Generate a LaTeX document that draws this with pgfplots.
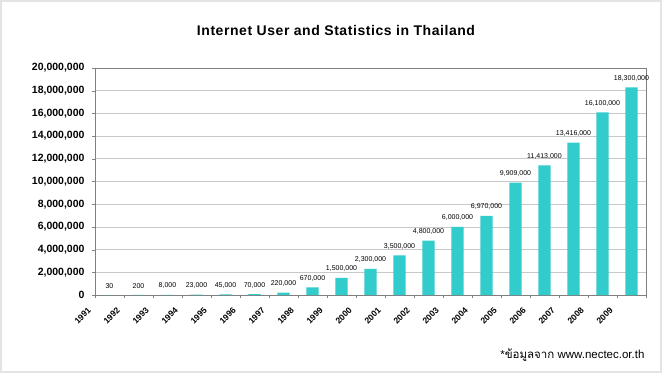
\documentclass[border=0pt]{standalone}
\usepackage{pgfplots}
\pgfplotsset{compat=1.18}
\usepackage{fontspec}
\setmainfont{Liberation Sans}
\newfontfamily\thaifont[Script=Thai]{Loma}
\definecolor{barc}{HTML}{33CCCC}
\definecolor{gridc}{HTML}{C8C8C8}
\definecolor{axc}{HTML}{808080}
\definecolor{framec}{HTML}{E4E4E4}
\begin{document}
\begin{tikzpicture}[x=1pt,y=1pt]
\fill[white] (0,0) rectangle (662,373);
\draw[framec, line width=2pt] (1,1) rectangle (661,372);
\useasboundingbox (0,0) rectangle (662,373);
\node[font=\fontsize{14}{16}\selectfont\bfseries\addfontfeature{LetterSpace=4}] at (336,343) {Internet User and Statistics in Thailand};
\node[anchor=east, font=\fontsize{11.5}{13}\selectfont] at (648,18) {*{\thaifont ข้อมูลจาก} www.nectec.or.th};
\begin{axis}[
  at={(95pt,78pt)}, anchor=south west,
  scale only axis, width=551pt, height=227pt,
  xmin=-0.5, xmax=18.5, ymin=0, ymax=20000000,
  ytick={0,2000000,...,20000000},
  scaled y ticks=false,
  yticklabel style={/pgf/number format/fixed, /pgf/number format/precision=0, /pgf/number format/1000 sep={,}},
  /pgf/number format/assume math mode=true,
  yticklabel style={font=\fontsize{10.5}{12}\selectfont\bfseries, xshift=-4pt},
  xtick=data,
  xticklabels={1991,1992,1993,1994,1995,1996,1997,1998,1999,2000,2001,2002,2003,2004,2005,2006,2007,2008,2009},
  xticklabel style={font=\fontsize{8.5}{10}\selectfont\bfseries, xshift=-20pt, yshift=-11pt, rotate=45, anchor=east, inner sep=0pt},
  minor xtick={-0.5,0.5,...,18.5},
  major x tick style={draw=none},
  minor x tick style={draw=axc},
  ytick style={draw=axc},
  tick align=outside,
  major tick length=3pt, minor tick length=3pt,
  xtick pos=bottom, ytick pos=left,
  ymajorgrids, grid style={gridc, line width=0.8pt},
  axis line style={axc, line width=0.8pt},
  ybar, bar width=12.3pt, bar shift=0pt,
  nodes near coords={\pgfmathprintnumber[fixed,precision=0,1000 sep={,}]{\pgfplotspointmeta}},
  every node near coord/.append style={font=\fontsize{7}{8}\selectfont, inner sep=0pt, yshift=6pt, anchor=south},
  clip=false,
]
\addplot[fill=barc, draw=none] coordinates {
(0,30) (1,200) (2,8000) (3,23000) (4,45000) (5,70000) (6,220000) (7,670000)
(8,1500000) (9,2300000) (10,3500000) (11,4800000) (12,6000000) (13,6970000)
(14,9909000) (15,11413000) (16,13416000) (17,16100000) (18,18300000)};
\end{axis}
\end{tikzpicture}
\end{document}
